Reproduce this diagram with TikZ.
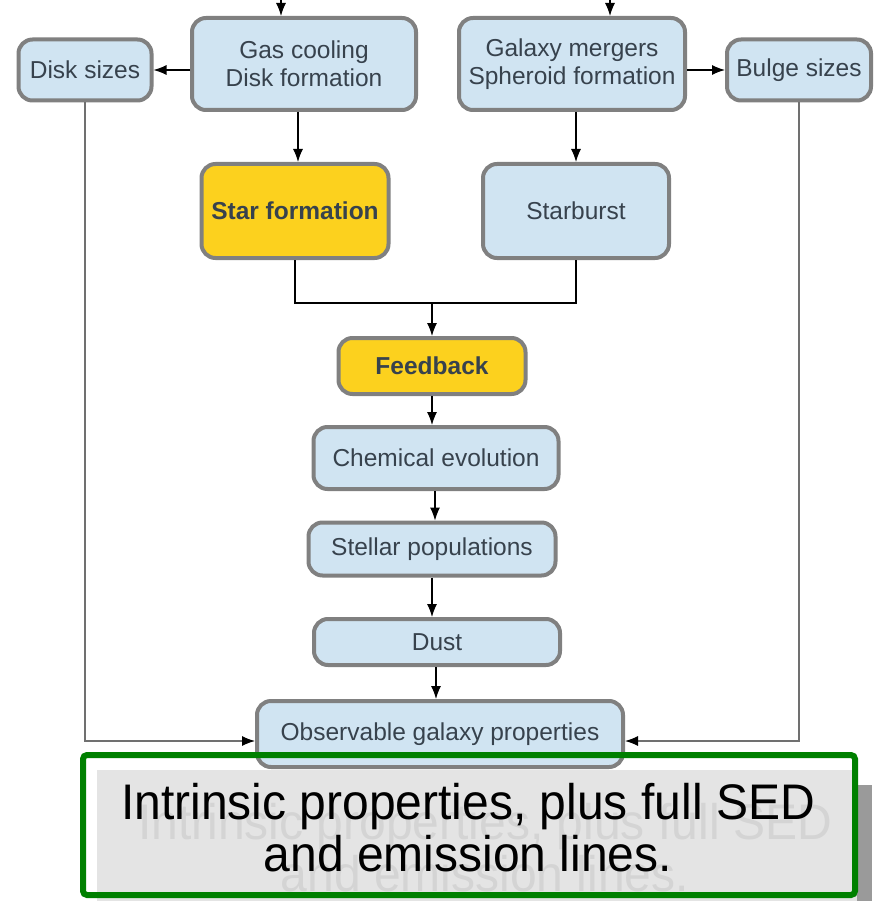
\documentclass[tikz,border=0pt]{standalone}
\usepackage{fontspec}
\setmainfont{Liberation Sans}
\newfontfamily\slidefont[FakeStretch=0.96]{Liberation Sans}
\usetikzlibrary{arrows.meta}

\definecolor{boxblue}{HTML}{D0E4F2}
\definecolor{boxedge}{HTML}{808080}
\definecolor{boxtext}{HTML}{37424D}
\definecolor{keyyellow}{HTML}{FCD11E}
\definecolor{slidegreen}{HTML}{008000}
\definecolor{ghosttext}{HTML}{D4D4D4}
\definecolor{backfill}{HTML}{E4E4E4}
\definecolor{backshadow}{HTML}{9A9A9A}
\definecolor{sideline}{HTML}{707070}

\tikzset{
  proc/.style={draw=boxedge, fill=boxblue, line width=4pt, rounded corners=14pt,
    text=boxtext, font=\fontsize{24.5}{28}\selectfont, align=center, inner sep=0pt},
  keyproc/.style={proc, fill=keyyellow, font=\fontsize{24.5}{28}\selectfont\bfseries},
  flow/.style={-{Latex[length=13pt,width=10pt,color=black]}, line width=1.1pt},
  sideflow/.style={flow, draw=sideline},
}

\begin{document}
\begin{tikzpicture}[x=1pt,y=-1pt]
\useasboundingbox (0,0) rectangle (883,901);

% top row
\node[proc, minimum width=133pt, minimum height=61pt] (disk) at (85,70) {Disk sizes};
\node[proc, minimum width=224pt, minimum height=92pt] (gas) at (304,64) {Gas cooling\\Disk formation};
\node[proc, minimum width=226pt, minimum height=92pt] (merge) at (572,64) {Galaxy mergers\\Spheroid formation};
\node[proc, minimum width=144pt, minimum height=61pt] (bulge) at (799,70) {Bulge sizes};

% star formation
\node[keyproc, minimum width=187pt, minimum height=94pt] (sf) at (295,211) {Star formation};
\node[proc, minimum width=186pt, minimum height=94pt] (sb) at (576,211) {Starburst};

% main chain
\node[keyproc, minimum width=187pt, minimum height=56pt] (fb) at (432,366) {Feedback};
\node[proc, minimum width=245pt, minimum height=62pt] (chem) at (436,458) {Chemical evolution};
\node[proc, minimum width=247pt, minimum height=53pt] (pop) at (432,549) {Stellar populations};
\node[proc, minimum width=246pt, minimum height=46pt] (dust) at (437,642) {Dust};
\node[proc, minimum width=366pt, minimum height=66pt] (obs) at (440,734) {Observable galaxy properties};

\coordinate (gasin) at (281,0);
\coordinate (mergein) at (610,0);
\coordinate (join) at (432,303);

\draw[flow] (gasin) -- (gasin |- gas.north);
\draw[flow] (mergein) -- (mergein |- merge.north);
\draw[flow] (gas.west |- disk.east) -- (disk.east);
\draw[flow] (merge.east |- bulge.west) -- (bulge.west);
\draw[flow] (gas.south -| 298,0) -- (sf.north -| 298,0);
\draw[flow] (merge.south -| sb.north) -- (sb.north);
\draw[line width=1.1pt] (sf.south) |- (join) -| (sb.south);
\draw[flow] (join) -- (fb.north);
\draw[flow] (fb.south) -- (fb.south |- chem.north);
\draw[flow] (chem.south -| 435,0) -- (pop.north -| 435,0);
\draw[flow] (pop.south) -- (pop.south |- dust.north);
\draw[flow] (dust.south -| 436,0) -- (obs.north -| 436,0);
\draw[sideflow] (disk.south) |- ([yshift=-7pt]obs.west);
\draw[sideflow] (bulge.south) |- ([yshift=-7pt]obs.east);

% slide overlay
\fill[backshadow] (110,785) rectangle (872,915);
\fill[backfill] (97,770) rectangle (857,905);
\node[text=ghosttext, align=center, font=\slidefont\fontsize{50}{52}\selectfont] (ghost) at (485,848)
  {Intrinsic properties, plus full SED\\and emission lines.};
\draw[slidegreen, line width=6pt, rounded corners=4pt] (83,755) rectangle (855,895);
\node[text=black, align=center, font=\slidefont\fontsize{50}{52}\selectfont] (summary) at (468,828)
  {Intrinsic properties, plus full SED\\and emission lines.};
\end{tikzpicture}
\end{document}
